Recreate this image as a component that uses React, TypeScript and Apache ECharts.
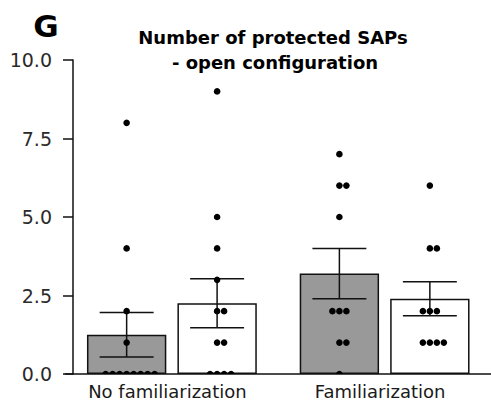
import React, { useEffect, useRef } from "react";
import * as echarts from "echarts";

const categories = ["No familiarization", "Familiarization"];
// individual data points (number of protected SAPs)
const grayNoFam = [8, 4, 2, 1, 0, 0, 0, 0, 0, 0, 0, 0];
const whiteNoFam = [9, 5, 4, 3, 2, 2, 1, 1, 0, 0, 0, 0];
const grayFam = [7, 6, 6, 5, 2, 2, 2, 1, 1, 0];
const whiteFam = [6, 4, 4, 2, 2, 2, 1, 1, 1, 1];
const yMin = 0;
const yMax = 10;
const yInterval = 2.5;

const titleLines = ["Number of protected SAPs", "- open configuration"];
const panelLetter = "G";

const mean = (a: number[]) => a.reduce((s, v) => s + v, 0) / a.length;
const sem = (a: number[]) => {
  const m = mean(a);
  const v = a.reduce((s, x) => s + (x - m) * (x - m), 0) / (a.length - 1);
  return Math.sqrt(v) / Math.sqrt(a.length);
};

const groups = [
  [grayNoFam, whiteNoFam],
  [grayFam, whiteFam],
];

const BAR_W = 0.373;
const BAR_GAP = 0.14;
const DOT_STEP = 7;

function barOffset(api: any, s: number) {
  const band = api.size([1, 0])[0];
  const bw = band * BAR_W;
  const gap = bw * BAR_GAP;
  return { off: ((bw + gap) / 2) * (s === 0 ? -1 : 1), bw };
}

export default function App() {
  const ref = useRef<HTMLDivElement>(null);
  useEffect(() => {
    document.body.style.margin = "0";
    if (!ref.current) return;
    const chart = echarts.init(ref.current, null, { renderer: "svg" });

    const errData: number[][] = [];
    const dotData: number[][] = [];
    groups.forEach((g, ci) => {
      g.forEach((arr, s) => {
        errData.push([ci, mean(arr), sem(arr), s]);
        const counts: Record<number, number> = {};
        arr.forEach((v) => (counts[v] = (counts[v] || 0) + 1));
        Object.keys(counts).forEach((k) => {
          const v = Number(k);
          const n = counts[v];
          const start = Math.floor((n - 1) / 2);
          for (let i = 0; i < n; i++) dotData.push([ci, v, s, i - start]);
        });
      });
    });

    const axisColor = "#111";
    chart.setOption({
      animation: false,
      grid: { left: 65.5, right: 0, top: 60, bottom: 30, containLabel: false },
      xAxis: {
        type: "category",
        data: categories,
        axisLine: { lineStyle: { color: axisColor, width: 1.5 } },
        axisTick: { show: false },
        axisLabel: {
          color: "#1a1a1a",
          fontFamily: "DejaVu Sans",
          fontSize: 18,
          margin: 8,
          padding: [0, 9, 0, 0],
        },
      },
      yAxis: {
        type: "value",
        min: yMin,
        max: yMax,
        interval: yInterval,
        offset: -7.5,
        splitLine: { show: false },
        axisLine: { show: true, lineStyle: { color: axisColor, width: 1.5 } },
        axisTick: { show: true, length: 10, lineStyle: { color: axisColor, width: 1.5 } },
        axisLabel: {
          color: "#2a2a2a",
          fontFamily: "DejaVu Sans",
          fontSize: 19,
          margin: 21,
          formatter: (v: number) => v.toFixed(1),
        },
      },
      graphic: [
        {
          type: "text",
          x: 46,
          y: 26,
          style: {
            text: panelLetter,
            fontFamily: "DejaVu Sans",
            fontWeight: "bold",
            fontSize: 31,
            fill: "#000",
            align: "center",
            verticalAlign: "middle",
          },
        },
        {
          type: "text",
          x: 273,
          y: 37,
          style: {
            text: titleLines[0],
            fontFamily: "DejaVu Sans",
            fontWeight: "bold",
            fontSize: 18,
            fill: "#000",
            align: "center",
            verticalAlign: "middle",
          },
        },
        {
          type: "text",
          x: 275,
          y: 62,
          style: {
            text: titleLines[1],
            fontFamily: "DejaVu Sans",
            fontWeight: "bold",
            fontSize: 18,
            fill: "#000",
            align: "center",
            verticalAlign: "middle",
          },
        },
      ],
      series: [
        {
          type: "bar",
          data: groups.map((g) => mean(g[0])),
          barWidth: BAR_W * 100 + "%",
          barGap: BAR_GAP * 100 + "%",
          itemStyle: { color: "#999999", borderColor: "#111", borderWidth: 1.5 },
          z: 1,
        },
        {
          type: "bar",
          data: groups.map((g) => mean(g[1])),
          barWidth: BAR_W * 100 + "%",
          barGap: BAR_GAP * 100 + "%",
          itemStyle: { color: "#ffffff", borderColor: "#111", borderWidth: 1.5 },
          z: 1,
        },
        {
          type: "custom",
          data: errData,
          encode: { x: 0, y: 1 },
          z: 3,
          renderItem: (params: any, api: any) => {
            const ci = api.value(0);
            const m = api.value(1);
            const e = api.value(2);
            const s = api.value(3);
            const { off, bw } = barOffset(api, s);
            const cx = api.coord([ci, m])[0] + off;
            const yt = api.coord([ci, m + e])[1];
            const yb = api.coord([ci, m - e])[1];
            const half = (bw * 0.68) / 2;
            const st = { stroke: "#111", lineWidth: 1.5 };
            return {
              type: "group",
              children: [
                { type: "line", shape: { x1: cx, y1: yt, x2: cx, y2: yb }, style: st },
                { type: "line", shape: { x1: cx - half, y1: yt, x2: cx + half, y2: yt }, style: st },
                { type: "line", shape: { x1: cx - half, y1: yb, x2: cx + half, y2: yb }, style: st },
              ],
            };
          },
        },
        {
          type: "custom",
          data: dotData,
          encode: { x: 0, y: 1 },
          clip: true,
          z: 4,
          renderItem: (params: any, api: any) => {
            const ci = api.value(0);
            const v = api.value(1);
            const s = api.value(2);
            const k = api.value(3);
            const { off } = barOffset(api, s);
            const c = api.coord([ci, v]);
            const cs = params.coordSys;
            return {
              type: "group",
              clipPath: {
                type: "rect",
                shape: { x: cs.x - 20, y: cs.y - 20, width: cs.width + 40, height: cs.height + 20 },
              },
              children: [
                {
                  type: "circle",
                  shape: { cx: c[0] + off + k * DOT_STEP, cy: c[1], r: 3.3 },
                  style: { fill: "#000" },
                },
              ],
            };
          },
        },
      ],
    });
    return () => chart.dispose();
  }, []);
  return <div ref={ref} style={{ width: 491, height: 404 }} />;
}
